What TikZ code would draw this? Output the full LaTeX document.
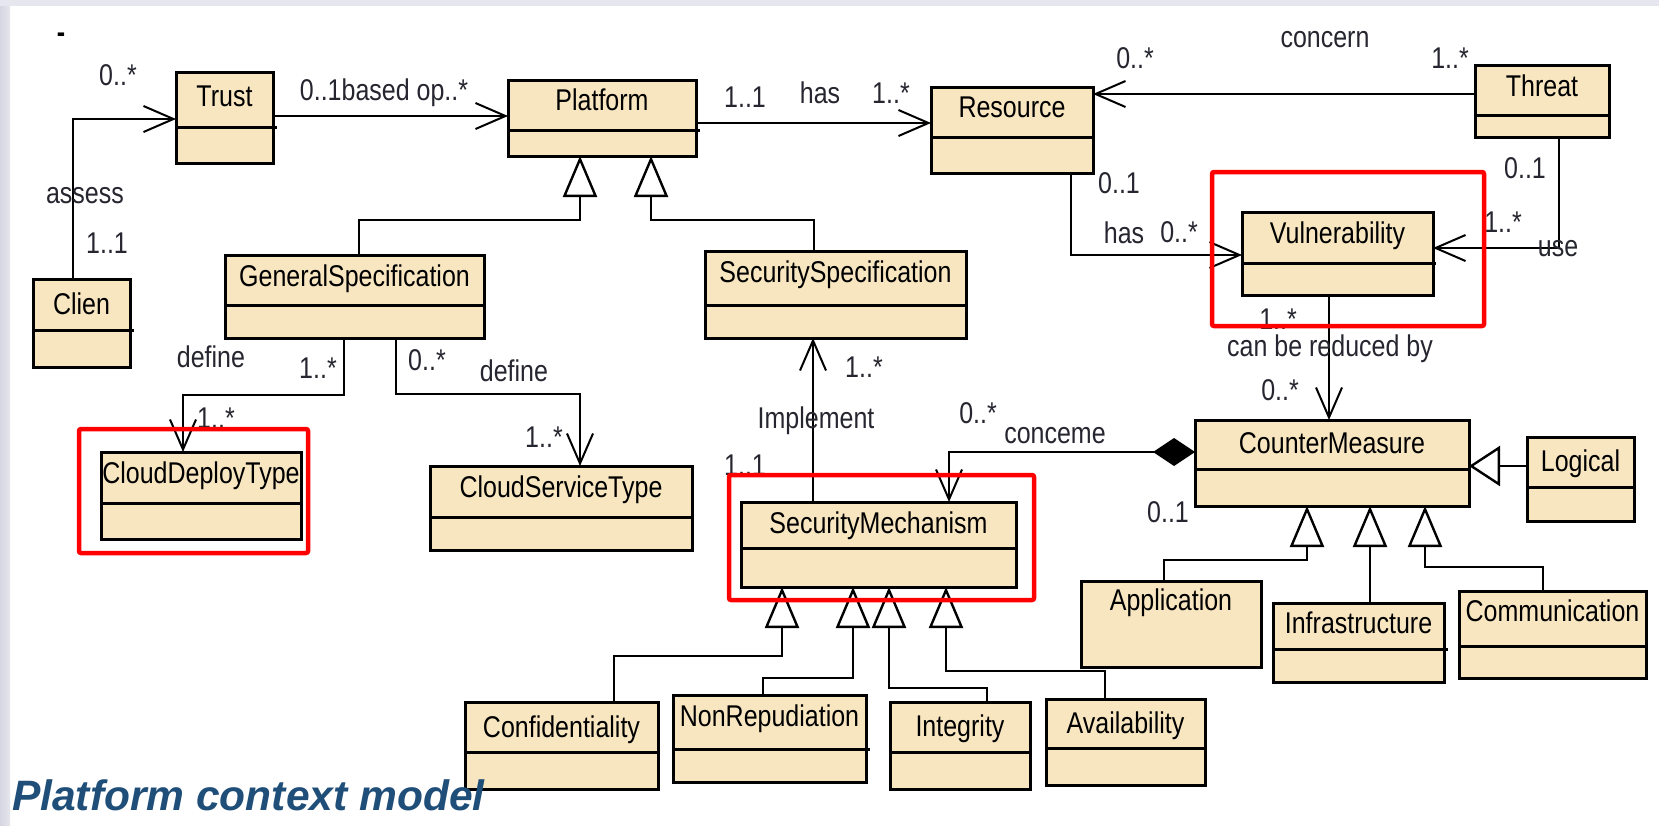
\documentclass[tikz,border=0pt]{standalone}
\usepackage{fontspec}
\setmainfont{Liberation Sans}
\usetikzlibrary{arrows.meta}

\definecolor{boxfill}{HTML}{F8E6C1}
\definecolor{hired}{HTML}{FF0000}
\definecolor{titleblue}{HTML}{1F4E79}
\definecolor{bandgray}{HTML}{D6D6E2}
\definecolor{topgray}{HTML}{E6E6EE}
\definecolor{labelink}{HTML}{262630}

% slightly tall lettering used for all diagram text
\newcommand{\tx}[1]{\scalebox{1}[1.2]{#1}}

% class box: name, x1, y1, x2, y2, divider y, divider overhang, baseline y, title
\newcommand{\umlclass}[9]{%
  \node[cbox, minimum width={(#4-#2)*1pt}, minimum height={(#5-#3)*1pt}]
    (#1) at ({(#2+#4)/2},{(#3+#5)/2}) {};
  \draw[divider] (#1.west |- 0,#6) -- (#1.east |- 0,#6) -- ++(#7,0);
  \node[cname] (#1-t) at ({(#2+#4)/2},#8) {\tx{#9}};
}

\begin{document}
\begin{tikzpicture}[x=1pt,y=-1pt,
  cbox/.style={draw=black, line width=3pt, fill=boxfill, rectangle, inner sep=0pt, outer sep=0pt},
  divider/.style={line width=3pt},
  cname/.style={inner sep=0pt, anchor=base, font=\fontsize{25}{30}\selectfont, text=black},
  lbl/.style={inner sep=0pt, anchor=base, font=\fontsize{25}{30}\selectfont, text=labelink},
  assoc/.style={line width=2.6pt, -{Straight Barb[length=30pt,width=26pt,line width=2pt]}},
  gen/.style={line width=2.6pt, -{Triangle[length=41pt,width=34pt,fill=white,line width=2.4pt]}},
  genside/.style={line width=2.6pt, -{Triangle[length=31pt,width=40pt,fill=white,line width=2.4pt]}},
  comp/.style={line width=2.6pt, {Diamond[length=42pt,width=28pt]}-{Straight Barb[length=30pt,width=26pt,line width=2pt]}},
  hilite/.style={draw=hired, line width=4.5pt, rounded corners=2pt},
  titletext/.style={inner sep=0pt, anchor=base west, text=titleblue,
    font=\fontsize{42.5}{50}\selectfont\bfseries\itshape},
]
\useasboundingbox (0,0) rectangle (1659,825);

% page background with the grey frame bands
\fill[white] (0,0) rectangle (1659,825);
\shade[left color=bandgray, right color=topgray] (0,0) rectangle (10,825);
\fill[topgray] (0,0) rectangle (1659,6);

% classes
\umlclass{trust}{176}{72}{273}{163}{127}{4}{106}{Trust}
\umlclass{clien}{33}{279}{130}{367}{330}{4}{314}{Clien}
\umlclass{platform}{508}{80}{696}{156}{130}{4}{110}{Platform}
\umlclass{resource}{931}{87}{1093}{173}{137}{0}{117}{Resource}
\umlclass{threat}{1475}{65}{1609}{137}{115}{0}{96}{Threat}
\umlclass{vuln}{1242}{212}{1433}{295}{263}{3}{243}{Vulnerability}
\umlclass{genspec}{225}{255}{484}{338}{305}{0}{286}{GeneralSpecification}
\umlclass{secspec}{705}{251}{966}{338}{305}{0}{282}{SecuritySpecification}
\umlclass{cdt}{101}{452}{301}{539}{503}{0}{483}{CloudDeployType}
\umlclass{cst}{430}{466}{692}{550}{517}{0}{497}{CloudServiceType}
\umlclass{secmech}{741}{502}{1016}{587}{548}{0}{533}{SecurityMechanism}
\umlclass{cm}{1195}{420}{1469}{506}{469}{0}{453}{CounterMeasure}
\umlclass{logical}{1527}{437}{1634}{521}{487}{0}{471}{Logical}
\node[cbox, minimum width=180pt, minimum height=86pt] (appl) at (1171,624) {};
\node[cname] (appl-t) at (1171,610) {\tx{Application}};
\umlclass{infra}{1273}{603}{1444}{682}{649}{4}{633}{Infrastructure}
\umlclass{comm}{1459}{591}{1646}{678}{646}{0}{621}{Communication}
\umlclass{conf}{465}{702}{658}{789}{752}{0}{737}{Confidentiality}
\umlclass{nonrep}{673}{695}{866}{782}{749}{4}{726}{NonRepudiation}
\umlclass{integ}{890}{702}{1030}{789}{752}{0}{736}{Integrity}
\umlclass{avail}{1046}{699}{1205}{785}{748}{0}{733}{Availability}

% associations
\draw[assoc] (clien.north -| 73,0) |- (trust.west |- 0,119);
\draw[assoc] (trust.east |- 0,116) -- (platform.west |- 0,116);
\draw[assoc] (platform.east |- 0,123) -- (resource.west |- 0,123);
\draw[assoc] (threat.west |- 0,94) -- (resource.east |- 0,94);
\draw[assoc] (resource.south -| 1071,0) |- (vuln.west |- 0,255);
\draw[assoc] (threat.south -| 1559,0) |- (vuln.east |- 0,248);
\draw[assoc] (vuln.south -| 1329,0) -- (cm.north -| 1329,0);
\draw[comp] (cm.west |- 0,452) -| (secmech.north -| 949,0);
\draw[assoc] (secmech.north -| 813,0) -- (secspec.south -| 813,0);
\draw[assoc] (genspec.south -| 344,0) |- (183,395) -- (cdt.north -| 183,0);
\draw[assoc] (genspec.south -| 396,0) |- (580,394) -- (cst.north -| 580,0);

% generalizations
\draw[gen] (genspec.north -| 359,0) |- (580,220) -- (platform.south -| 580,0);
\draw[gen] (secspec.north -| 814,0) |- (651,220) -- (platform.south -| 651,0);
\draw[gen] (conf.north -| 614,0) |- (782,656) -- (secmech.south -| 782,0);
\draw[gen] (nonrep.north -| 763,0) |- (853,678) -- (secmech.south -| 853,0);
\draw[gen] (integ.north -| 987,0) |- (889,688) -- (secmech.south -| 889,0);
\draw[gen] (avail.north -| 1105,0) |- (946,671) -- (secmech.south -| 946,0);
\draw[gen] (appl.north -| 1164,0) |- (1307,560) -- (cm.south -| 1307,0);
\draw[gen] (infra.north -| 1370,0) -- (cm.south -| 1370,0);
\draw[gen] (comm.north -| 1543,0) |- (1425,567) -- (cm.south -| 1425,0);
\draw[genside] (logical.west |- 0,466) -- (cm.east |- 0,466);

% role names and multiplicities
\node[lbl, text=black] (dash) at (61,42) {\tx{\bfseries -}};
\node[lbl] (m1) at (118,85) {\tx{0..*}};
\node[lbl] (m2) at (384,100) {\tx{0..1based op..*}};
\node[lbl] (m3) at (85,203) {\tx{assess}};
\node[lbl] (m4) at (107,253) {\tx{1..1}};
\node[lbl] (m5) at (745,107) {\tx{1..1}};
\node[lbl] (m6) at (820,103) {\tx{has}};
\node[lbl] (m7) at (891,103) {\tx{1..*}};
\node[lbl] (m8) at (1325,47) {\tx{concern}};
\node[lbl] (m9) at (1135,68) {\tx{0..*}};
\node[lbl] (m10) at (1450,68) {\tx{1..*}};
\node[lbl] (m11) at (1119,193) {\tx{0..1}};
\node[lbl] (m12) at (1124,243) {\tx{has}};
\node[lbl] (m13) at (1179,242) {\tx{0..*}};
\node[lbl] (m14) at (1525,178) {\tx{0..1}};
\node[lbl] (m15) at (1503,232) {\tx{1..*}};
\node[lbl] (m16) at (1558,256) {\tx{use}};
\node[lbl] (m17) at (1278,329) {\tx{1..*}};
\node[lbl] (m18) at (1330,356) {\tx{can be reduced by}};
\node[lbl] (m19) at (1280,400) {\tx{0..*}};
\node[lbl] (m20) at (211,367) {\tx{define}};
\node[lbl] (m21) at (318,378) {\tx{1..*}};
\node[lbl] (m22) at (427,370) {\tx{0..*}};
\node[lbl] (m23) at (514,381) {\tx{define}};
\node[lbl] (m24) at (216,428) {\tx{1..*}};
\node[lbl] (m25) at (544,447) {\tx{1..*}};
\node[lbl] (m26) at (864,377) {\tx{1..*}};
\node[lbl] (m27) at (816,428) {\tx{Implement}};
\node[lbl] (m28) at (745,475) {\tx{1..1}};
\node[lbl] (m29) at (978,423) {\tx{0..*}};
\node[lbl] (m30) at (1055,443) {\tx{conceme}};
\node[lbl] (m31) at (1168,522) {\tx{0..1}};

% red highlight frames
\draw[hilite] (1212,172) rectangle (1484,326);
\draw[hilite] (79,429) rectangle (308,553);
\draw[hilite] (729,475) rectangle (1034,600);

% caption
\node[titletext] (title) at (12,810) {Platform context model};
\end{tikzpicture}
\end{document}
